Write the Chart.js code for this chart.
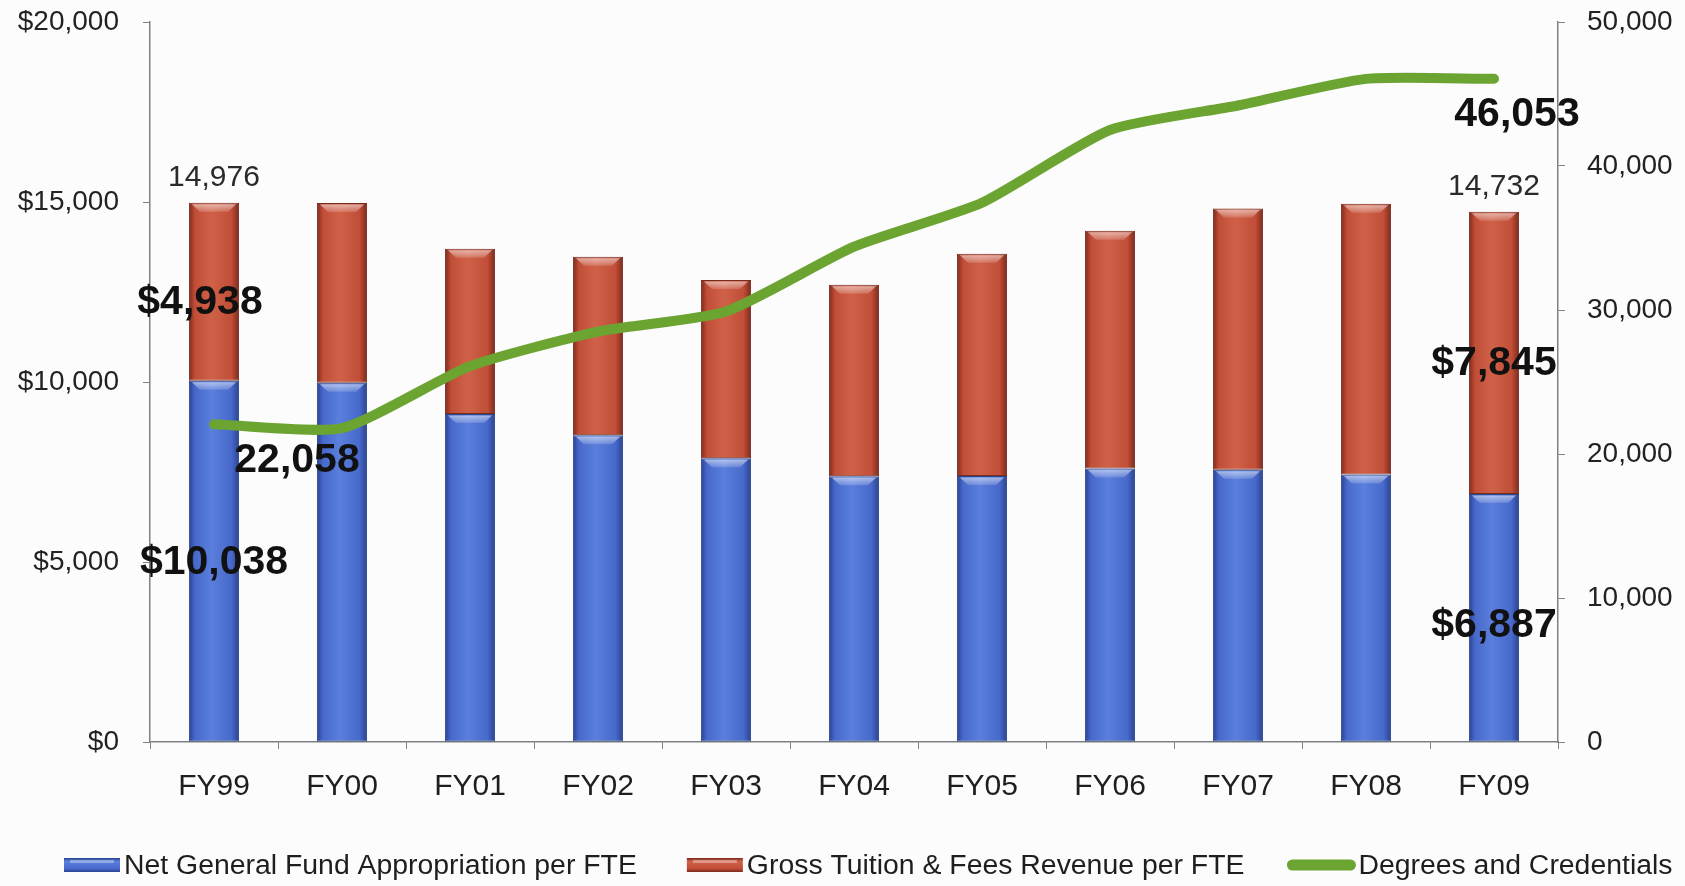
<!DOCTYPE html>
<html>
<head>
<meta charset="utf-8">
<script src="https://cdn.jsdelivr.net/npm/chart.js@4.4.1/dist/chart.umd.min.js"></script>
<style>
html,body{margin:0;padding:0;background:#fcfcfd;}
#wrap{width:1685px;height:886px;position:relative;}
canvas{display:block;}
</style>
</head>
<body>
<div id="wrap"><canvas id="c" width="1685" height="886"></canvas></div>
<script>
// ---- data ----
const categories = ['FY99','FY00','FY01','FY02','FY03','FY04','FY05','FY06','FY07','FY08','FY09'];
const netGeneralFund = [10038, 9980, 9110, 8520, 7880, 7380, 7390, 7600, 7560, 7430, 6887];
const tuitionFees    = [4938, 4990, 4590, 4960, 4950, 5320, 6170, 6600, 7260, 7520, 7845];
const degrees        = [22058, 21800, 26100, 28500, 29900, 34400, 37450, 42500, 44200, 46050, 46053];
const leftTicks  = [0, 5000, 10000, 15000, 20000];
const rightTicks = [0, 10000, 20000, 30000, 40000, 50000];
const seriesNames = ['Net General Fund Appropriation per FTE', 'Gross Tuition & Fees Revenue per FTE', 'Degrees and Credentials'];
const totalLabelIdx = [0, 10];     // bars with a total shown above
const segLabelIdx = [0, 10];       // bars with bold segment values
const degreeLabelIdx = [0, 10];    // points with bold degree values

const FONT = "'Liberation Sans', Arial, Helvetica, sans-serif";
const BAR_PCT = 0.49, CAT_PCT = 0.8;
const BLUE = ['#2a4290', '#4869cb', '#5a7fdc'];
const RED  = ['#7c2a1c', '#c14e37', '#d06149'];
const GREEN = '#6ca431';

function fmt(v){ return v.toLocaleString('en-US'); }

function hGrad(c2d, x0, x1, cols) {
  const g = c2d.createLinearGradient(x0, 0, x1, 0);
  g.addColorStop(0, cols[0]);
  g.addColorStop(0.12, cols[1]);
  g.addColorStop(0.45, cols[2]);
  g.addColorStop(0.85, cols[1]);
  g.addColorStop(1, cols[0]);
  return g;
}

function barGradient(ctx, cols) {
  const chart = ctx.chart;
  if (ctx.dataIndex === undefined || !chart.chartArea) return cols[1];
  const xs = chart.scales.x;
  const cx = xs.getPixelForValue(ctx.dataIndex);
  const half = xs.width / categories.length * CAT_PCT * BAR_PCT / 2;
  return hGrad(chart.ctx, cx - half, cx + half, cols);
}

const bevelPlugin = {
  id: 'bevel',
  afterDatasetDraw(chart, args) {
    const ds = chart.data.datasets[args.index];
    if (ds.type === 'line') return;
    const ctx = chart.ctx;
    args.meta.data.forEach(el => {
      const p = el.getProps(['x','y','base','width'], true);
      const top = Math.min(p.y, p.base), h = Math.abs(p.base - p.y);
      const l = p.x - p.width/2, r = p.x + p.width/2;
      const bh = Math.min(9, h/3);
      ctx.save();
      ctx.beginPath();
      ctx.moveTo(l + 3, top + 1.5);
      ctx.lineTo(r - 3, top + 1.5);
      ctx.lineTo(r - p.width*0.22, top + bh);
      ctx.lineTo(l + p.width*0.22, top + bh);
      ctx.closePath();
      const g = ctx.createLinearGradient(0, top, 0, top + bh);
      g.addColorStop(0, 'rgba(255,255,255,0.6)');
      g.addColorStop(1, 'rgba(255,255,255,0.15)');
      ctx.fillStyle = g;
      ctx.fill();
      ctx.restore();
    });
  }
};

const labelPlugin = {
  id: 'valueLabels',
  afterDatasetsDraw(chart) {
    const ctx = chart.ctx;
    const xs = chart.scales.x, ys = chart.scales.y, y1 = chart.scales.y1;
    ctx.save();
    ctx.textAlign = 'center';
    ctx.textBaseline = 'middle';
    ctx.fillStyle = '#2a2a2a';
    ctx.font = `30px ${FONT}`;
    totalLabelIdx.forEach(i => {
      const t = netGeneralFund[i] + tuitionFees[i];
      ctx.fillText(fmt(t), xs.getPixelForValue(i), ys.getPixelForValue(t) - 25);
    });
    ctx.fillStyle = '#111';
    ctx.font = `bold 41px ${FONT}`;
    segLabelIdx.forEach(i => {
      const cx = xs.getPixelForValue(i);
      const b = netGeneralFund[i], t = tuitionFees[i];
      const dxT = i === 0 ? -14 : 0;
      ctx.fillText('$' + fmt(t), cx + dxT, ys.getPixelForValue(b + t/2) + 11);
      ctx.fillText('$' + fmt(b), cx, ys.getPixelForValue(b/2) + (i === 0 ? 1 : 8));
    });
    degreeLabelIdx.forEach(i => {
      const px = xs.getPixelForValue(i), py = y1.getPixelForValue(degrees[i]);
      const dx = i === 0 ? 83 : 23;
      ctx.fillText(fmt(degrees[i]), px + dx, py + 36);
    });
    ctx.restore();
  }
};

// legend drawn in the reserved bottom band
const legendPlugin = {
  id: 'bottomLegend',
  afterDraw(chart) {
    const ctx = chart.ctx;
    const cy = 865;
    const boxW = 56, boxH = 14, gap = 4;
    const spacings = [50, 42];
    ctx.save();
    ctx.font = `28.4px ${FONT}`;
    ctx.textBaseline = 'middle';
    ctx.textAlign = 'left';
    let x = 64;
    seriesNames.forEach((name, k) => {
      let tx;
      if (k < 2) {
        const cols = k === 0 ? BLUE : RED;
        const top = cy - boxH/2;
        const g = ctx.createLinearGradient(0, top, 0, top + boxH);
        g.addColorStop(0, cols[0]); g.addColorStop(0.25, cols[2]); g.addColorStop(0.75, cols[1]); g.addColorStop(1, cols[0]);
        ctx.fillStyle = g;
        ctx.fillRect(x, top, boxW, boxH);
        ctx.fillStyle = 'rgba(255,255,255,0.35)';
        ctx.fillRect(x + 6, top + 2, boxW - 12, 3);
        tx = x + boxW + gap;
      } else {
        ctx.strokeStyle = GREEN;
        ctx.lineWidth = 11;
        ctx.lineCap = 'round';
        ctx.beginPath();
        ctx.moveTo(x + 6, cy); ctx.lineTo(x + 64, cy);
        ctx.stroke();
        tx = x + 72;
      }
      ctx.fillStyle = '#1e1e1e';
      ctx.fillText(name, tx, cy + 1);
      x = tx + ctx.measureText(name).width + (spacings[k] || 0);
    });
    ctx.restore();
  }
};

const tickFont = { family: FONT, size: 28 };
const axisColor = '#808080';
function noPad(scale) { scale.paddingTop = 0; scale.paddingBottom = 0; }

new Chart(document.getElementById('c'), {
  data: {
    labels: categories,
    datasets: [
      {
        type: 'bar', label: seriesNames[0], data: netGeneralFund, yAxisID: 'y', stack: 's', order: 1,
        backgroundColor: ctx => barGradient(ctx, BLUE),
        borderColor: '#2d4789', borderWidth: 1, borderSkipped: false,
        barPercentage: BAR_PCT, categoryPercentage: CAT_PCT
      },
      {
        type: 'bar', label: seriesNames[1], data: tuitionFees, yAxisID: 'y', stack: 's', order: 1,
        backgroundColor: ctx => barGradient(ctx, RED),
        borderColor: '#782c1f', borderWidth: 1, borderSkipped: false,
        barPercentage: BAR_PCT, categoryPercentage: CAT_PCT
      },
      {
        type: 'line', label: seriesNames[2], data: degrees, yAxisID: 'y1', order: 0,
        borderColor: GREEN, backgroundColor: GREEN,
        borderWidth: 10, pointRadius: 0, tension: 0.2,
        borderCapStyle: 'round', borderJoinStyle: 'round', fill: false
      }
    ]
  },
  options: {
    responsive: false,
    devicePixelRatio: 1,
    animation: false,
    layout: { padding: { top: 22, left: 0, right: 0, bottom: 48 } },
    scales: {
      x: {
        stacked: true,
        offset: true,
        grid: { display: true, drawOnChartArea: false, drawTicks: true, tickLength: 7, color: axisColor, offset: true },
        border: { display: true, color: axisColor, width: 1.5 },
        ticks: { font: { family: FONT, size: 30 }, color: '#1e1e1e', padding: 20, maxRotation: 0 },
        afterFit(scale) { scale.height = 96; scale.paddingLeft = 0; scale.paddingRight = 0; }
      },
      y: {
        position: 'left', stacked: true,
        min: leftTicks[0], max: leftTicks[leftTicks.length-1],
        afterBuildTicks(scale) { scale.ticks = leftTicks.map(v => ({ value: v })); },
        grid: { display: true, drawOnChartArea: false, drawTicks: true, tickLength: 7, color: axisColor },
        border: { display: true, color: axisColor, width: 1.5 },
        ticks: { font: tickFont, color: '#222', padding: 24, callback: v => '$' + fmt(v) },
        afterFit(scale) { scale.width = 150; noPad(scale); }
      },
      y1: {
        position: 'right',
        min: rightTicks[0], max: rightTicks[rightTicks.length-1],
        afterBuildTicks(scale) { scale.ticks = rightTicks.map(v => ({ value: v })); },
        grid: { display: true, drawOnChartArea: false, drawTicks: true, tickLength: 7, color: axisColor },
        border: { display: true, color: axisColor, width: 1.5 },
        ticks: { font: tickFont, color: '#222', padding: 22, callback: v => fmt(v) },
        afterFit(scale) { scale.width = 127; noPad(scale); }
      }
    },
    plugins: {
      legend: { display: false },
      tooltip: { enabled: false }
    }
  },
  plugins: [bevelPlugin, labelPlugin, legendPlugin]
});
</script>
</body>
</html>
